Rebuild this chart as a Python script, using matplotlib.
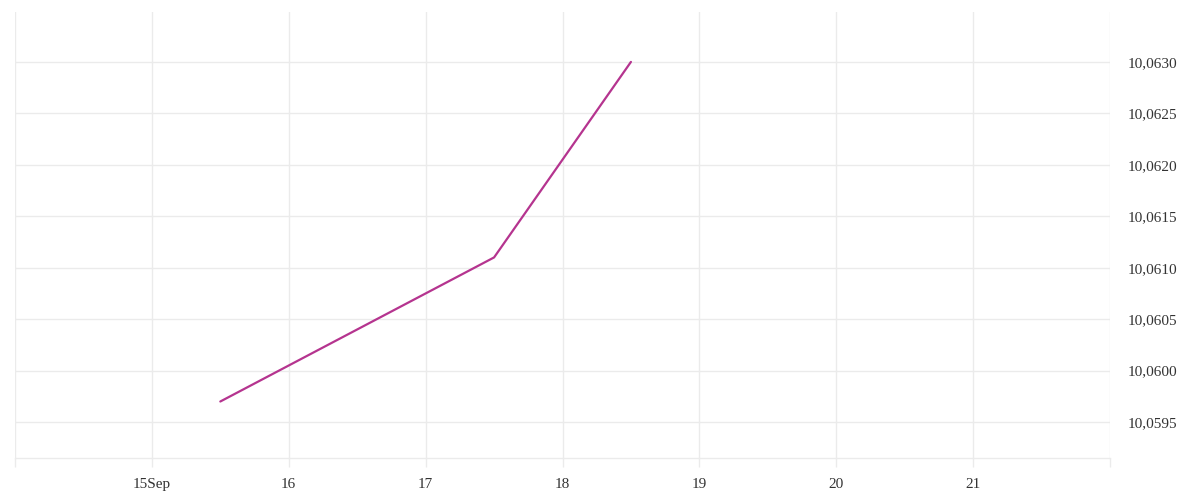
import matplotlib
matplotlib.use("Agg")
import matplotlib.pyplot as plt
import matplotlib.dates as mdates
import matplotlib.ticker as mticker
import numpy as np
import datetime as dt

# Data
dates = [dt.datetime(2023, 9, 15, 12), dt.datetime(2023, 9, 17, 12), dt.datetime(2023, 9, 18, 12)]
values = [10.0597, 10.0611, 10.0630]
y_ticks = [10.0595, 10.0600, 10.0605, 10.0610, 10.0615, 10.0620, 10.0625, 10.0630]
x_tick_days = [14, 15, 16, 17, 18, 19, 20, 21, 22]
x_tick_labels = ["", "15Sep", "16", "17", "18", "19", "20", "21", ""]

plt.rcParams['font.family'] = ['Liberation Serif', 'DejaVu Serif']

fig = plt.figure(figsize=(12, 5), dpi=100)
ax = fig.add_axes([15/1200, 1 - 458/500, (1110 - 15)/1200, (458 - 12)/500])

grid_c = "#ebebeb"
ax.plot(dates, values, color="#b5348f", linewidth=1.6, solid_capstyle="round")

ax.set_xlim(dt.datetime(2023, 9, 14), dt.datetime(2023, 9, 22))
ax.set_ylim(10.059151, 10.063485)

xt = [dt.datetime(2023, 9, d) for d in x_tick_days]
ax.set_xticks(xt)
ax.set_xticklabels(x_tick_labels)
ax.set_yticks(y_ticks)
ax.yaxis.set_major_formatter(mticker.FuncFormatter(lambda v, p: f"{v:.4f}".replace(".", ",")))
ax.yaxis.tick_right()

ax.grid(True, color=grid_c, linewidth=1)
ax.set_axisbelow(True)
for s in ["top", "left", "right"]:
    ax.spines[s].set_visible(False)
ax.spines["bottom"].set_color(grid_c)
ax.spines["bottom"].set_linewidth(1)

ax.tick_params(axis="x", length=6.5, width=1, color=grid_c, direction="out", pad=8,
               labelsize=11, labelcolor="#333333")
ax.tick_params(axis="y", length=0, pad=13, labelsize=11, labelcolor="#333333")

fig.savefig("out.png", dpi=100, facecolor="white")
